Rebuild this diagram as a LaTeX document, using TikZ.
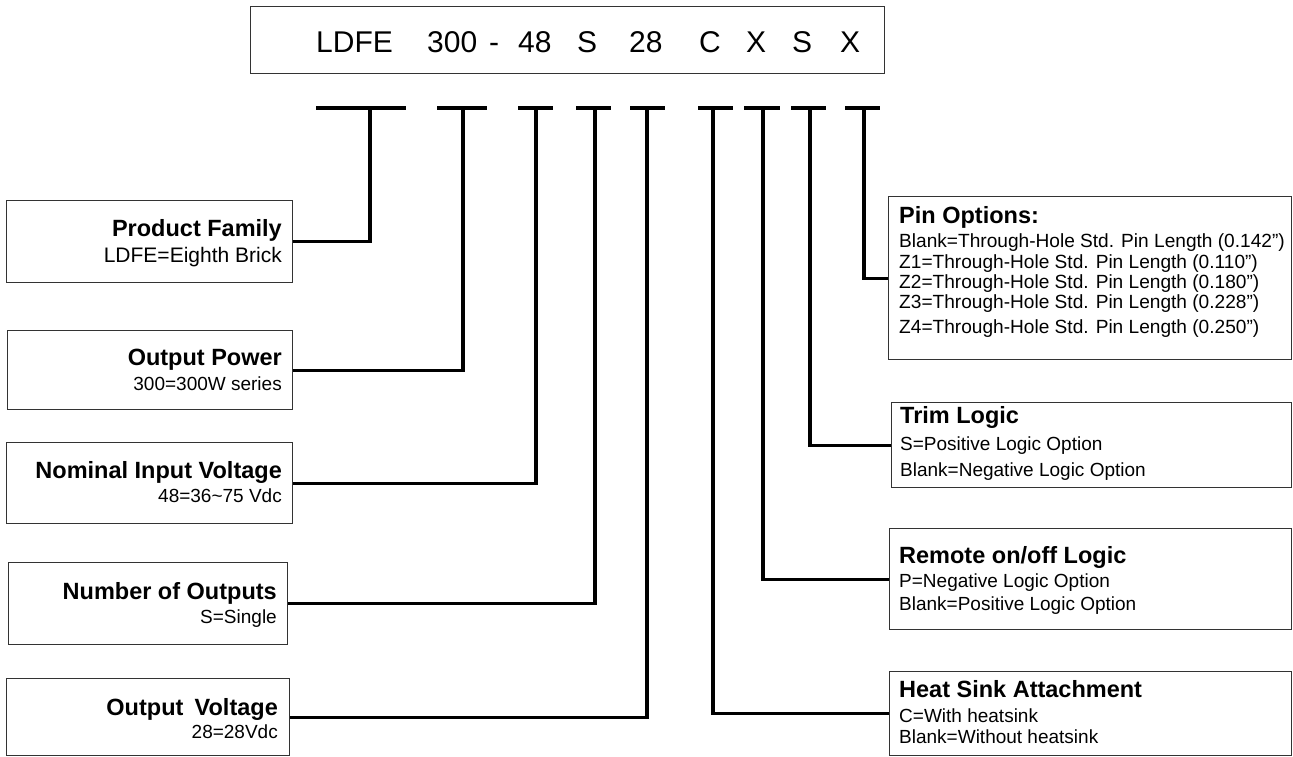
\documentclass[tikz,border=0pt]{standalone}
\usepackage{fontspec}
\setmainfont{Liberation Sans}
\begin{document}
\begin{tikzpicture}[x=1pt,y=-1pt,
  box/.style={draw=black!80, line width=1.2pt, rectangle, inner sep=0pt, anchor=north west},
  conn/.style={line width=3.1pt, line join=miter},
  bar/.style={line width=3.1pt},
  ttl/.style={font=\fontsize{23.5}{24}\selectfont\bfseries, inner sep=0pt},
  sub/.style={font=\fontsize{19}{20}\selectfont, inner sep=0pt},
  pinl/.style={font=\fontsize{19.1}{20}\selectfont, inner sep=0pt, anchor=base west},
  tok/.style={font=\fontsize{30}{30}\selectfont, inner sep=0pt, anchor=base west}]
\useasboundingbox (0,0) rectangle (1293,756);

% top code box
\node[box, minimum width=634pt, minimum height=67pt] (code) at (250,6) {};
\node[tok] (k1) at (316,52) {LDFE};
\node[tok] (k2) at (427,52) {300};
\node[tok] (k3) at (489,52) {-};
\node[tok] (k4) at (518,52) {48};
\node[tok] (k5) at (577,52) {S};
\node[tok] (k6) at (629,52) {28};
\node[tok] (k7) at (699,52) {C};
\node[tok] (k8) at (746,52) {X};
\node[tok] (k9) at (792,52) {S};
\node[tok] (k10) at (840,52) {X};

% bar junctions
\coordinate (t1) at (370,108);
\coordinate (t2) at (463,108);
\coordinate (t3) at (536,108);
\coordinate (t4) at (595,108);
\coordinate (t5) at (647,108);
\coordinate (t6) at (713,108);
\coordinate (t7) at (763,108);
\coordinate (t8) at (810,108);
\coordinate (t9) at (864,108);
\draw[bar] (316,108) -- (406,108);
\draw[bar] (437,108) -- (487,108);
\draw[bar] (518,108) -- (553,108);
\draw[bar] (576,108) -- (611,108);
\draw[bar] (630,108) -- (665,108);
\draw[bar] (698,108) -- (733,108);
\draw[bar] (744,108) -- (780,108);
\draw[bar] (791,108) -- (826,108);
\draw[bar] (845,108) -- (880,108);

% left boxes
\node[box, minimum width=286pt, minimum height=82pt] (pf) at (6,200) {};
\node[ttl, anchor=base east] (pft) at (282,236) {Product Family};
\node[font=\fontsize{21}{22}\selectfont, inner sep=0pt, anchor=base east] (pfs) at (282,262) {LDFE=Eighth Brick};

\node[box, minimum width=285pt, minimum height=79pt] (op) at (7,330) {};
\node[ttl, anchor=base east] (opt) at (282,365) {Output Power};
\node[sub, anchor=base east] (ops) at (282,390) {300=300W series};

\node[box, minimum width=286pt, minimum height=81pt] (niv) at (6,442) {};
\node[ttl, anchor=base east] (nivt) at (282,478) {Nominal Input Voltage};
\node[sub, anchor=base east] (nivs) at (282,502) {48=36\textasciitilde75 Vdc};

\node[box, minimum width=279pt, minimum height=82pt] (no) at (8,562) {};
\node[ttl, anchor=base east] (not) at (277,599) {Number of Outputs};
\node[sub, anchor=base east] (nos) at (277,623) {S=Single};

\node[box, minimum width=283pt, minimum height=77pt] (ov) at (6,678) {};
\node[ttl, anchor=base east] (ovt) at (278,715) {Output\hspace{0.2em} Voltage};
\node[sub, anchor=base east] (ovs) at (278,738) {28=28Vdc};

% right boxes
\node[box, minimum width=403pt, minimum height=163pt] (pin) at (888,196) {};
\node[ttl, anchor=base west] (pint) at (899,223) {Pin Options:};
\node[pinl] (pin1) at (899,247) {Blank=Through-Hole Std. Pin Length (0.142”)};
\node[pinl] (pin2) at (899,268) {Z1=Through-Hole Std. Pin Length (0.110”)};
\node[pinl] (pin3) at (899,288) {Z2=Through-Hole Std. Pin Length (0.180”)};
\node[pinl] (pin4) at (899,308) {Z3=Through-Hole Std. Pin Length (0.228”)};
\node[pinl] (pin5) at (899,333) {Z4=Through-Hole Std. Pin Length (0.250”)};

\node[box, minimum width=400pt, minimum height=85pt] (trim) at (891,402) {};
\node[ttl, anchor=base west] (trimt) at (900,423) {Trim Logic};
\node[sub, anchor=base west] (trim1) at (900,450) {S=Positive Logic Option};
\node[sub, anchor=base west] (trim2) at (900,476) {Blank=Negative Logic Option};

\node[box, minimum width=402pt, minimum height=101pt] (rem) at (889,528) {};
\node[ttl, anchor=base west] (remt) at (899,563) {Remote on/off Logic};
\node[sub, anchor=base west] (rem1) at (899,587) {P=Negative Logic Option};
\node[sub, anchor=base west] (rem2) at (899,610) {Blank=Positive Logic Option};

\node[box, minimum width=402pt, minimum height=84pt] (heat) at (889,671) {};
\node[ttl, anchor=base west] (heatt) at (899,697) {Heat Sink Attachment};
\node[sub, anchor=base west] (heat1) at (899,722) {C=With heatsink};
\node[sub, anchor=base west] (heat2) at (899,743) {Blank=Without heatsink};

% connectors
\draw[conn] (pf.east) -| (t1);
\draw[conn] (op.east) -| (t2);
\draw[conn] (niv.east) -| (t3);
\draw[conn] (no.east) -| (t4);
\draw[conn] (ov.east) -| (t5);
\draw[conn] (heat.west) -| (t6);
\draw[conn] (rem.west) -| (t7);
\draw[conn] (trim.west) -| (t8);
\draw[conn] (pin.west) -| (t9);
\end{tikzpicture}
\end{document}
